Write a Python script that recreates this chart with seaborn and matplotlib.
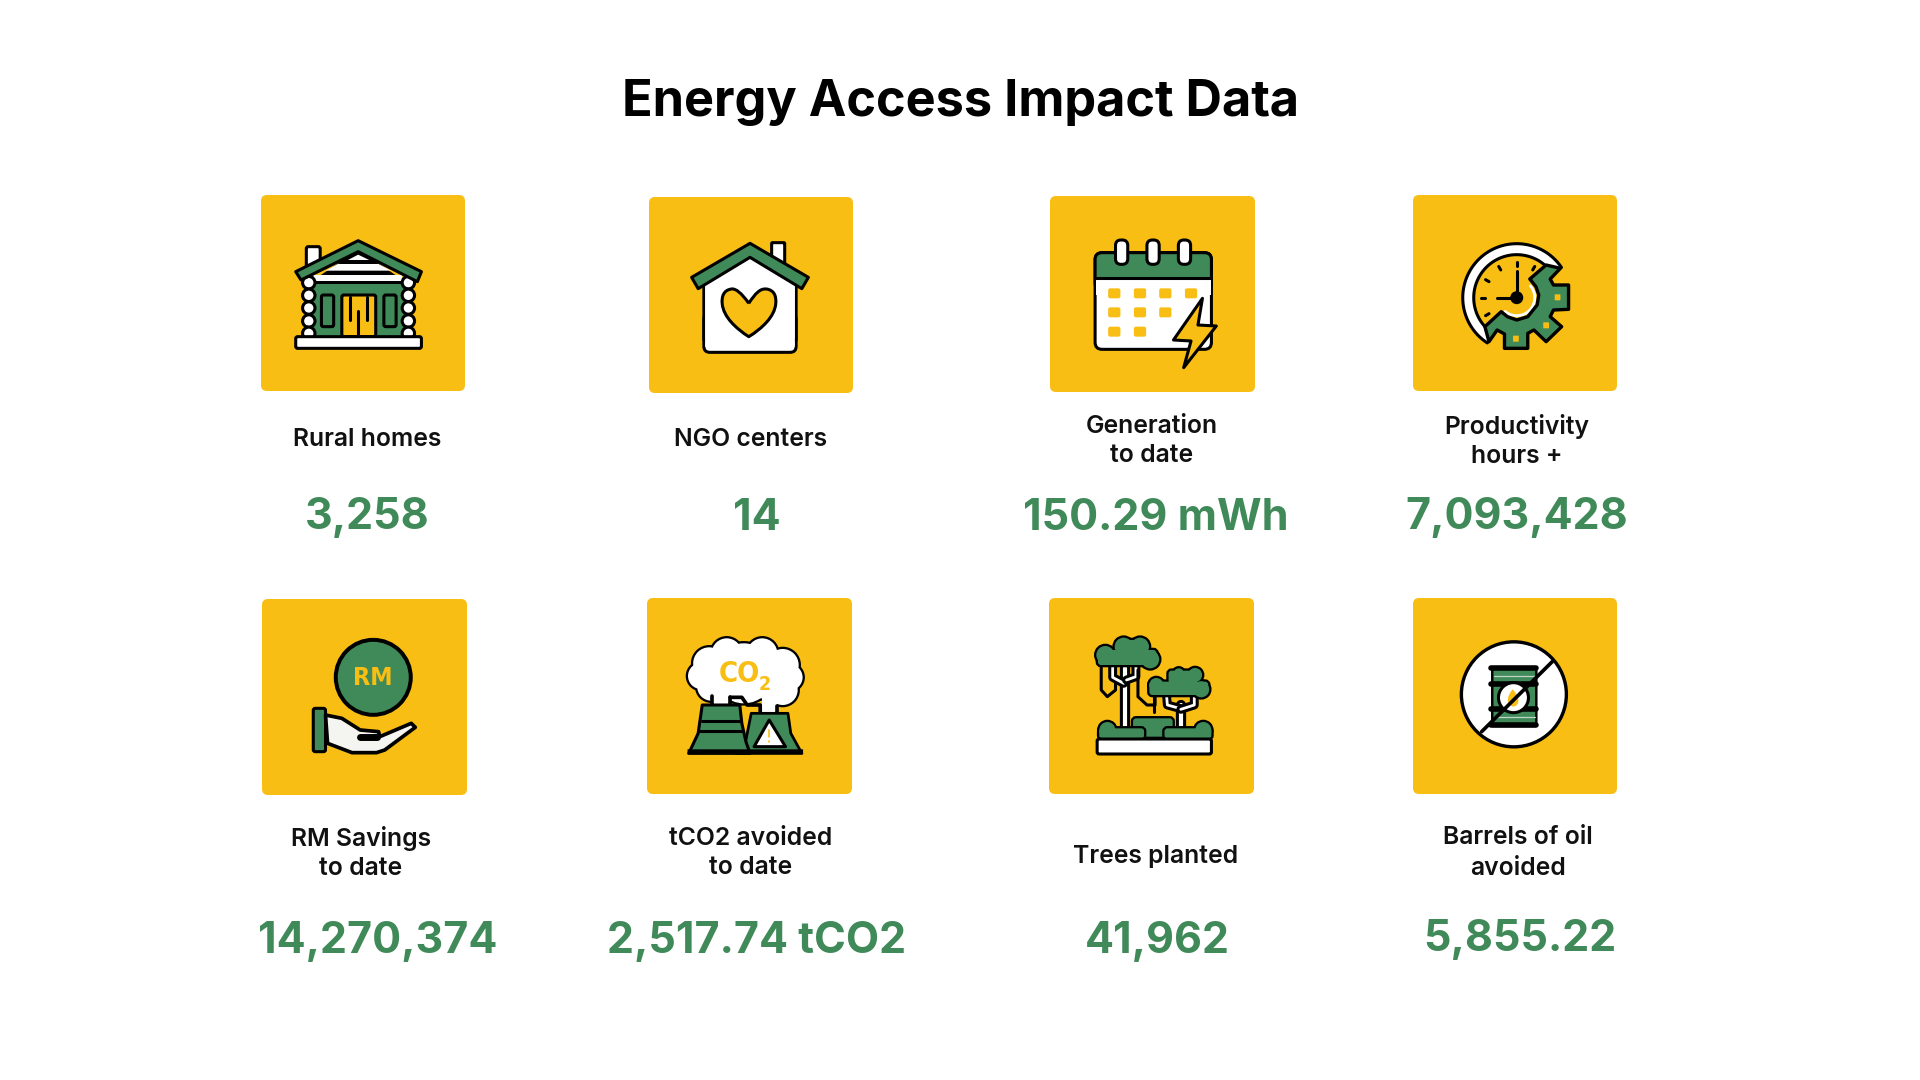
import numpy as np
import matplotlib
matplotlib.use("Agg")
import matplotlib.pyplot as plt
from matplotlib.patches import FancyBboxPatch, Polygon, Circle, PathPatch
from matplotlib.path import Path
import seaborn as sns

# ---- chart content ----
title = "Energy Access Impact Data"
labels = ["Rural homes", "NGO centers", "Generation\nto date", "Productivity\nhours +",
          "RM Savings\nto date", "tCO2 avoided\nto date", "Trees planted", "Barrels of oil\navoided"]
values = ["3,258", "14", "150.29 mWh", "7,093,428",
          "14,270,374", "2,517.74 tCO2", "41,962", "5,855.22"]

# ---- layout (pixels) ----
cards = [(261, 465, 195, 391), (649, 853, 197, 393), (1050, 1255, 196, 392), (1413, 1617, 195, 391),
         (262, 467, 599, 795), (647, 852, 598, 794), (1049, 1254, 598, 794), (1413, 1617, 598, 794)]
label_xy = [(367, 440), (751, 440), (1152, 441), (1517, 441),
            (361, 853), (751, 853), (1156, 856), (1518, 853)]
label_spacing = [1.33, 1.33, 1.33, 1.33, 1.33, 1.33, 1.33, 1.45]
value_xy = [(367, 518), (757, 518), (1156, 518), (1517, 518),
            (378, 942), (757, 942), (1157, 942), (1520, 940)]

YEL = "#F9BE14"
GRN = "#408A59"
BLK = "#000000"
WHT = "#FFFFFF"
LW = 2.2

sns.set_theme(style="white")
plt.rcParams["font.family"] = ["Inter", "DejaVu Sans"]

fig = plt.figure(figsize=(19.2, 10.8), dpi=100, facecolor="white")
ax = fig.add_axes([0, 0, 1, 1])
ax.set_xlim(0, 1920)
ax.set_ylim(1080, 0)
ax.axis("off")
sns.despine(ax=ax, left=True, bottom=True)

_z = [10]
def nz():
    _z[0] += 1
    return _z[0]

ORIGIN = [0, 0]
def T(p):
    return (ORIGIN[0] + p[0] / 2.45, ORIGIN[1] + p[1] / 3.0)

def poly(pts, fc=WHT, ec=BLK, lw=LW, closed=True):
    ax.add_patch(Polygon([T(p) for p in pts], closed=closed, fc=fc, ec=ec, lw=lw,
                         joinstyle="round", zorder=nz()))

def line(pts, c=BLK, lw=LW):
    q = np.array([T(p) for p in pts])
    ax.plot(q[:, 0], q[:, 1], color=c, lw=lw, solid_capstyle="round", solid_joinstyle="round", zorder=nz())

def branch(pts, lw=2.0):
    line(pts, c=BLK, lw=lw + 2 * LW)
    line(pts, c=WHT, lw=lw)

def rrect(x0, y0, x1, y1, r=3, fc=WHT, ec=BLK, lw=LW):
    a, b = T((x0, y0)), T((x1, y1))
    ax.add_patch(FancyBboxPatch((a[0], a[1]), b[0] - a[0], b[1] - a[1],
                                boxstyle=f"round,pad=0,rounding_size={r}",
                                fc=fc, ec=ec, lw=lw, zorder=nz()))

def circ(x, y, r, fc=WHT, ec=BLK, lw=LW):
    ax.add_patch(Circle(T((x, y)), r, fc=fc, ec=ec, lw=lw, zorder=nz()))

def blob(items, rects=(), fc=GRN):
    # outlined union of circles and boxes
    for x, y, r in items:
        circ(x, y, r, fc=fc, ec=BLK, lw=LW * 1.5)
    for x0, y0, x1, y1 in rects:
        rrect(x0, y0, x1, y1, r=3, fc=fc, ec=BLK, lw=LW * 1.5)
    for x, y, r in items:
        circ(x, y, r, fc=fc, ec=fc, lw=0)
    for x0, y0, x1, y1 in rects:
        rrect(x0, y0, x1, y1, r=3, fc=fc, ec=fc, lw=0)

def curve(verts, fc=YEL, ec=BLK, lw=LW):
    codes = [Path.MOVETO] + [Path.CURVE4] * (len(verts) - 1)
    ax.add_patch(PathPatch(Path([T(v) for v in verts], codes), fc=fc, ec=ec, lw=lw,
                           joinstyle="round", zorder=nz()))

def vtext(x, y, s, size, color=YEL):
    a = T((x, y))
    ax.text(a[0], a[1], s, fontsize=size, color=color, ha="center", va="center",
            fontweight="bold", family="DejaVu Sans", stretch="condensed", zorder=nz())

def arc_view(cx, cy, r, a0, a1, n=60):
    # arc given in view coordinates of the centre, radius in pixels
    t = np.radians(np.linspace(a0, a1, n))
    return np.c_[cx + 2.45 * r * np.cos(t), cy - 3.0 * r * np.sin(t)]

# ---- cards ----
for x0, x1, y0, y1 in cards:
    ax.add_patch(FancyBboxPatch((x0, y0), x1 - x0, y1 - y0,
                                boxstyle="round,pad=0,rounding_size=6",
                                fc=YEL, ec="none", zorder=nz()))

# ---- icon 1: cabin ----
ORIGIN[:] = [250, 180]
rrect(138, 200, 172, 262, r=2)
poly([(150, 310), (265, 215), (380, 310), (380, 470), (150, 470)], fc=BLK)
poly([(240, 240), (265, 224), (292, 240)], ec="none")
poly([(186, 272), (215, 252), (315, 252), (345, 272)], ec="none")
poly([(158, 285), (372, 285), (372, 303), (158, 303)], ec="none")
poly([(152, 312), (380, 312), (380, 468), (152, 468)], fc=GRN, ec="none")
rrect(175, 345, 205, 440, r=2, fc=GRN)
rrect(328, 345, 358, 440, r=2, fc=GRN)
rrect(225, 345, 308, 470, r=2, fc=YEL)
for x, a, b in [(246, 352, 420), (265, 392, 468), (287, 352, 420)]:
    line([(x, a), (x, b)])
for sx in (144, 388):
    for sy in (308, 346, 384, 423, 460):
        circ(sx, sy, 6.2)
poly([(112, 275), (265, 182), (420, 275), (410, 305), (265, 215), (125, 300)], fc=GRN)
rrect(112, 470, 420, 505, r=2)

# ---- icon 2: house with heart ----
rrect(1278, 188, 1310, 262, r=1)
rrect(1112, 400, 1338, 517, r=6)
poly([(1112, 310), (1225, 232), (1338, 310), (1338, 480), (1112, 480)], ec=BLK)
poly([(1115, 312), (1225, 236), (1335, 312), (1335, 500), (1115, 500)], ec="none")
poly([(1082, 292), (1225, 190), (1368, 292), (1352, 326), (1225, 232), (1098, 326)], fc=GRN)
curve([(1222, 370), (1205, 340), (1190, 325), (1180, 327), (1160, 330), (1155, 350), (1157, 372),
       (1160, 410), (1190, 445), (1222, 470), (1255, 445), (1285, 410), (1288, 372),
       (1290, 350), (1285, 330), (1265, 327), (1250, 325), (1238, 340), (1222, 370)])

# ---- icon 3: calendar ----
ORIGIN[:] = [1040, 180]
rrect(135, 218, 420, 508, r=7)
rrect(135, 218, 420, 330, r=7, fc=GRN)
poly([(137, 293), (418, 293), (418, 345), (137, 345)], ec="none")
line([(135, 293), (420, 293)])
for x in (200, 277, 354):
    rrect(x - 15, 180, x + 15, 253, r=5.5)
for row, y in enumerate((340, 397, 455)):
    for col, x in enumerate((182, 245, 307, 370)):
        if col + row < 4:
            rrect(x - 15, y - 15, x + 15, y + 15, r=2, fc=YEL, ec="none", lw=0)
poly([(398, 355), (387, 435), (432, 438), (352, 563), (370, 483), (327, 480)], fc=YEL)

# ---- icon 4: gauge and gear ----
cx4, cy4 = 1168, 353
poly(np.vstack([arc_view(cx4, cy4, 54, 34, 237), [(cx4, cy4)]]), fc=WHT, ec="none")
line(arc_view(cx4, cy4, 54, 34, 237))
poly(np.vstack([arc_view(cx4, cy4, 43, 48, 222), [(cx4, cy4)]]), fc=YEL, ec="none")
line(arc_view(cx4, cy4, 43, 48, 222))
circ(cx4, cy4, 25, fc=YEL, ec="none", lw=0)
line(arc_view(cx4, cy4, 18, 40, -130, 30), c=WHT, lw=2)
poly([(1240, 255), (1275, 265), (1250, 297), (1258, 315), (1295, 315), (1295, 388), (1258, 390),
      (1250, 410), (1278, 440), (1240, 485), (1210, 450), (1195, 460), (1195, 505), (1138, 505),
      (1138, 462), (1120, 450), (1100, 485), (1090, 440), (1130, 395), (1145, 410), (1168, 420),
      (1195, 410), (1218, 375), (1222, 345), (1215, 320), (1200, 297)], fc=GRN, lw=LW * 1.1)
for ang in (60, 90, 120, 150, 180, 210):
    pts = [arc_view(cx4, cy4, r, ang, ang, 1)[0] for r in (36, 32)]
    line(pts)
line([(cx4, cy4), (cx4, 272)])
line([(cx4, cy4), (1120, cy4)])
circ(cx4, cy4, 6.5, fc=BLK, lw=0)
for x, y in [(1268, 352), (1240, 436), (1166, 476)]:
    rrect(x - 7, y - 9, x + 7, y + 9, r=0.5, fc=YEL, ec="none", lw=0)

# ---- icon 5: coin and hand ----
ORIGIN[:] = [250, 590]
circ(302, 262, 37.5, fc=GRN, lw=LW * 1.3)
vtext(302, 263, "RM", 18)
rrect(155, 355, 185, 485, r=2, fc=GRN)
poly([(185, 375), (225, 385), (270, 420), (315, 425), (318, 440), (395, 400), (405, 412),
      (330, 480), (310, 488), (250, 488), (190, 460)], fc="#F4F4F0", lw=LW * 1.2)
line([(270, 440), (312, 440)], lw=5)

# ---- icon 6: CO2 towers ----
blob([(1168, 190, 15), (1255, 190, 15), (1125, 220, 16), (1105, 258, 13), (1130, 290, 14),
      (1305, 225, 16), (1322, 262, 13), (1305, 300, 15), (1210, 250, 30)],
     rects=[(1135, 200, 1320, 325)], fc=WHT)
poly([(1135, 300), (1175, 300), (1175, 350), (1135, 350)], ec="none")
poly([(1255, 320), (1290, 320), (1290, 375), (1255, 375)], ec="none")
line([(1133, 318), (1133, 345)], lw=LW * 1.2)
line([(1177, 322), (1177, 345)], lw=LW * 1.2)
line([(1177, 322), (1205, 322), (1218, 345), (1250, 345), (1250, 370)], lw=LW * 1.2)
line([(1292, 348), (1292, 370)], lw=LW * 1.2)
poly([(1228, 370), (1318, 370), (1325, 430), (1352, 490), (1190, 490), (1215, 450)], fc=GRN, lw=LW * 0.9)
poly([(1108, 345), (1200, 345), (1205, 400), (1215, 455), (1225, 490), (1075, 490), (1098, 430)], fc=GRN)
line([(1108, 393), (1200, 393)])
line([(1102, 422), (1205, 422)])
poly([(1272, 390), (1312, 470), (1235, 470)], fc=WHT)
line([(1272, 420), (1272, 440)], c=YEL, lw=1.2)
line([(1272, 452), (1272, 456)], c=YEL, lw=1.2)
rrect(1072, 478, 1355, 493, r=0, fc=BLK, lw=0)
vtext(1198, 252, "CO", 21)
vtext(1262, 282, "2", 14)

# ---- icon 7: trees ----
ORIGIN[:] = [1040, 590]
line([(150, 230), (150, 300), (165, 320), (185, 300), (185, 240)])
branch([(208, 235), (208, 410)], lw=3)
branch([(178, 225), (178, 262), (205, 280)])
branch([(235, 225), (235, 260), (212, 270)])
line([(240, 240), (240, 320), (262, 345), (282, 345), (282, 315)])
line([(280, 320), (280, 365)])
blob([(205, 170, 9), (245, 170, 9), (160, 195, 9), (270, 208, 9)],
     rects=[(142, 180, 285, 225), (190, 150, 255, 190)])
branch([(345, 345), (345, 410)], lw=3)
branch([(310, 315), (312, 345), (345, 356)])
branch([(378, 315), (378, 345), (345, 358)])
blob([(340, 250, 5), (380, 255, 7), (285, 285, 7), (395, 298, 8)],
     rects=[(268, 275, 412, 315), (315, 242, 385, 280)])
blob([], rects=[(228, 385, 325, 440)])
blob([(165, 420, 8), (400, 420, 8)], rects=[(145, 415, 255, 445), (305, 415, 420, 445)])
rrect(140, 447, 420, 492, r=2)

# ---- icon 8: no oil ----
circ(1161, 313, 52.5, lw=LW * 1.1)
rrect(1108, 232, 1216, 408, r=1, fc=GRN, lw=LW * 0.8)
for y in (233, 283, 357, 406):
    line([(1105, y), (1216, y)], lw=4)
for y in (258, 380):
    line([(1112, y), (1212, y)], c="#BFD6C6", lw=0.9)
circ(1160, 323, 15)
curve([(1158, 298), (1175, 320), (1178, 345), (1160, 350), (1142, 345), (1142, 320), (1158, 298)],
      fc=YEL, ec="none", lw=0)
line([(1255, 215), (1082, 425)], lw=LW * 1.2)

# ---- text ----
ax.text(960, 102, title, fontsize=36.3, fontweight="bold", color="black", ha="center", va="center", zorder=nz())
for s, (x, y), sp in zip(labels, label_xy, label_spacing):
    ax.text(x, y, s, fontsize=17.8, fontweight="semibold", color="#111111", ha="center", va="center",
            multialignment="center", linespacing=sp, zorder=nz())
for s, (x, y) in zip(values, value_xy):
    ax.text(x, y, s, fontsize=31, fontweight="bold", color=GRN, ha="center", va="center", zorder=nz())

fig.savefig("out.png", dpi=100, facecolor="white")
